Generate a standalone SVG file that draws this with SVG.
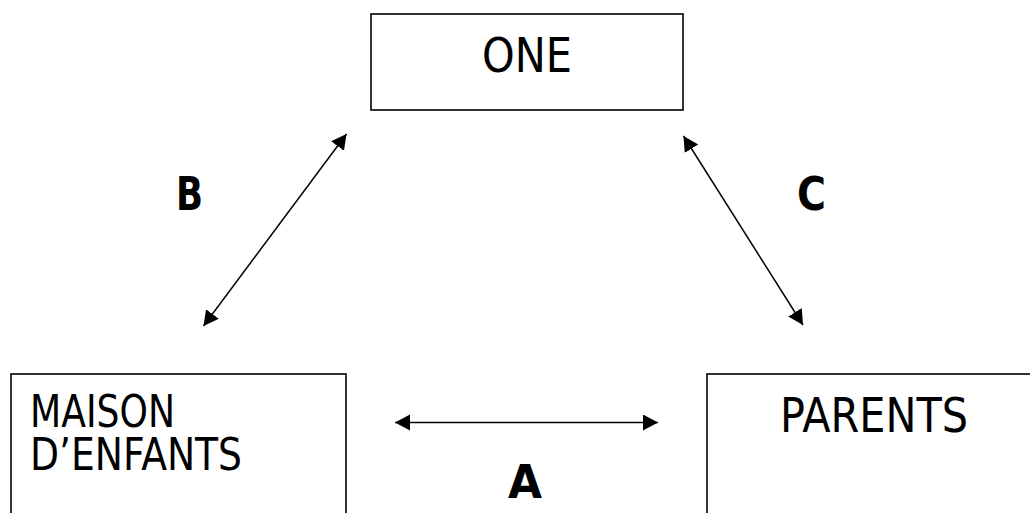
<svg xmlns="http://www.w3.org/2000/svg" width="1030" height="513" viewBox="0 0 1030 513">
<style>
.box{fill:#fff;stroke:#000;stroke-width:1.6}
.lbl{font-family:"DejaVu Sans","Open Sans",sans-serif;font-size:48px;fill:#000}
.lbl2{font-family:"DejaVu Sans","Open Sans",sans-serif;font-size:44px;fill:#000}
.let{font-family:"DejaVu Sans","Open Sans",sans-serif;font-size:46px;font-weight:bold;fill:#000}
.conn{stroke:#000;stroke-width:1.5;fill:none;marker-start:url(#ah);marker-end:url(#ah)}
</style>
<defs>
<marker id="ah" markerUnits="userSpaceOnUse" markerWidth="16" markerHeight="17" refX="15" refY="8" orient="auto-start-reverse" viewBox="0 0 16 17">
<path d="M0,0 L15,8 L0,16 Z" fill="#000"/>
</marker>
</defs>
<rect width="1030" height="513" fill="#fff"/>
<g id="node-one">
<rect class="box" x="371" y="14" width="312" height="96"/>
<text class="lbl" x="482" y="72" textLength="90" lengthAdjust="spacingAndGlyphs">ONE</text>
</g>
<g id="node-maison">
<rect class="box" x="11" y="374" width="335" height="160"/>
<text class="lbl2" x="30" y="427" textLength="145" lengthAdjust="spacingAndGlyphs">MAISON</text>
<text class="lbl2" x="30" y="470" textLength="212" lengthAdjust="spacingAndGlyphs">D’ENFANTS</text>
</g>
<g id="node-parents">
<rect class="box" x="707" y="374" width="340" height="160"/>
<text class="lbl" x="780" y="432" textLength="188" lengthAdjust="spacingAndGlyphs">PARENTS</text>
</g>
<g id="connectors">
<line class="conn" x1="395" y1="422.5" x2="658" y2="422.5"/>
<line class="conn" x1="203.5" y1="326" x2="346.5" y2="134"/>
<line class="conn" x1="683.5" y1="136" x2="803" y2="325"/>
</g>
<g id="labels">
<text class="let" x="176" y="210" textLength="27" lengthAdjust="spacingAndGlyphs">B</text>
<text class="let" x="797" y="210" textLength="29" lengthAdjust="spacingAndGlyphs">C</text>
<text class="let" x="508" y="498" textLength="34" lengthAdjust="spacingAndGlyphs">A</text>
</g>
</svg>
